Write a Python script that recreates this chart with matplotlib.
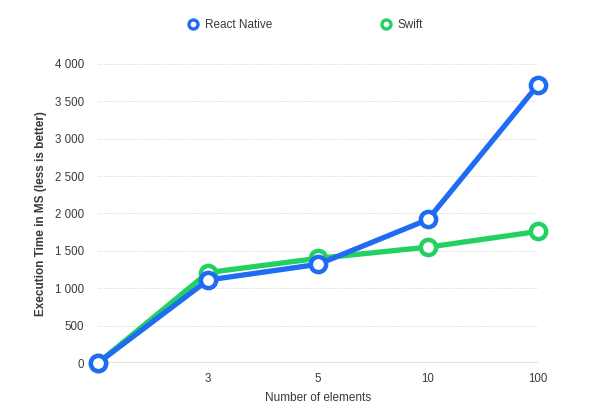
import matplotlib.pyplot as plt
from matplotlib.lines import Line2D
from matplotlib.ticker import FuncFormatter

plt.rcParams['font.family'] = ['Liberation Sans', 'DejaVu Sans']

# data
categories = ["", "3", "5", "10", "100"]
react_native = [0, 1110, 1320, 1920, 3720]
swift = [0, 1210, 1400, 1550, 1760]
y_ticks = [0, 500, 1000, 1500, 2000, 2500, 3000, 3500, 4000]

blue = "#1f6bf2"
green = "#22d162"
text_col = "#3a3a3a"

fig = plt.figure(figsize=(5.99, 4.11), dpi=100)
ax = fig.add_axes([98 / 599, 48 / 411, 440 / 599, 299 / 411])

x = list(range(len(categories)))
style = dict(linewidth=3.8, marker="o", markersize=11, markerfacecolor="white",
             markeredgewidth=3.2, clip_on=False)
ax.plot(x, swift, color=green, zorder=3, **style)
ax.plot(x, react_native, color=blue, zorder=4, **style)

ax.set_xlim(0, len(categories) - 1)
ax.set_ylim(0, 4000)
ax.set_xticks(x)
ax.set_xticklabels(categories)
ax.set_yticks(y_ticks)
ax.yaxis.set_major_formatter(FuncFormatter(lambda v, p: f"{int(v):,}".replace(",", " ")))
ax.tick_params(length=0, labelsize=8.3, labelcolor=text_col)
ax.tick_params(axis="y", pad=10)
ax.tick_params(axis="x", pad=7)

for s in ax.spines.values():
    s.set_visible(False)
ax.grid(axis="y", color="#d0d0d0", linestyle=(0, (1, 1.2)), linewidth=0.6)
ax.axhline(0, color="#dddddd", linewidth=2, zorder=1)

ax.set_xlabel("Number of elements", fontsize=8.5, color=text_col, labelpad=5)
ax.set_ylabel("Execution Time in MS (less is better)", fontsize=8.5, color=text_col,
              fontweight="bold", labelpad=6)

handles = [
    Line2D([], [], color=blue, marker="o", linestyle="", markersize=6.5,
           markerfacecolor="white", markeredgewidth=2.4),
    Line2D([], [], color=green, marker="o", linestyle="", markersize=6.5,
           markerfacecolor="white", markeredgewidth=2.4),
]
fig.legend(handles, ["React Native", "Swift"], loc="center", ncol=2,
           bbox_to_anchor=(305 / 599, 1 - 25 / 411), frameon=False,
           fontsize=8.5, labelcolor=text_col, handlelength=1, handletextpad=0.5,
           columnspacing=9.1)

fig.savefig("out.png", dpi=100)
